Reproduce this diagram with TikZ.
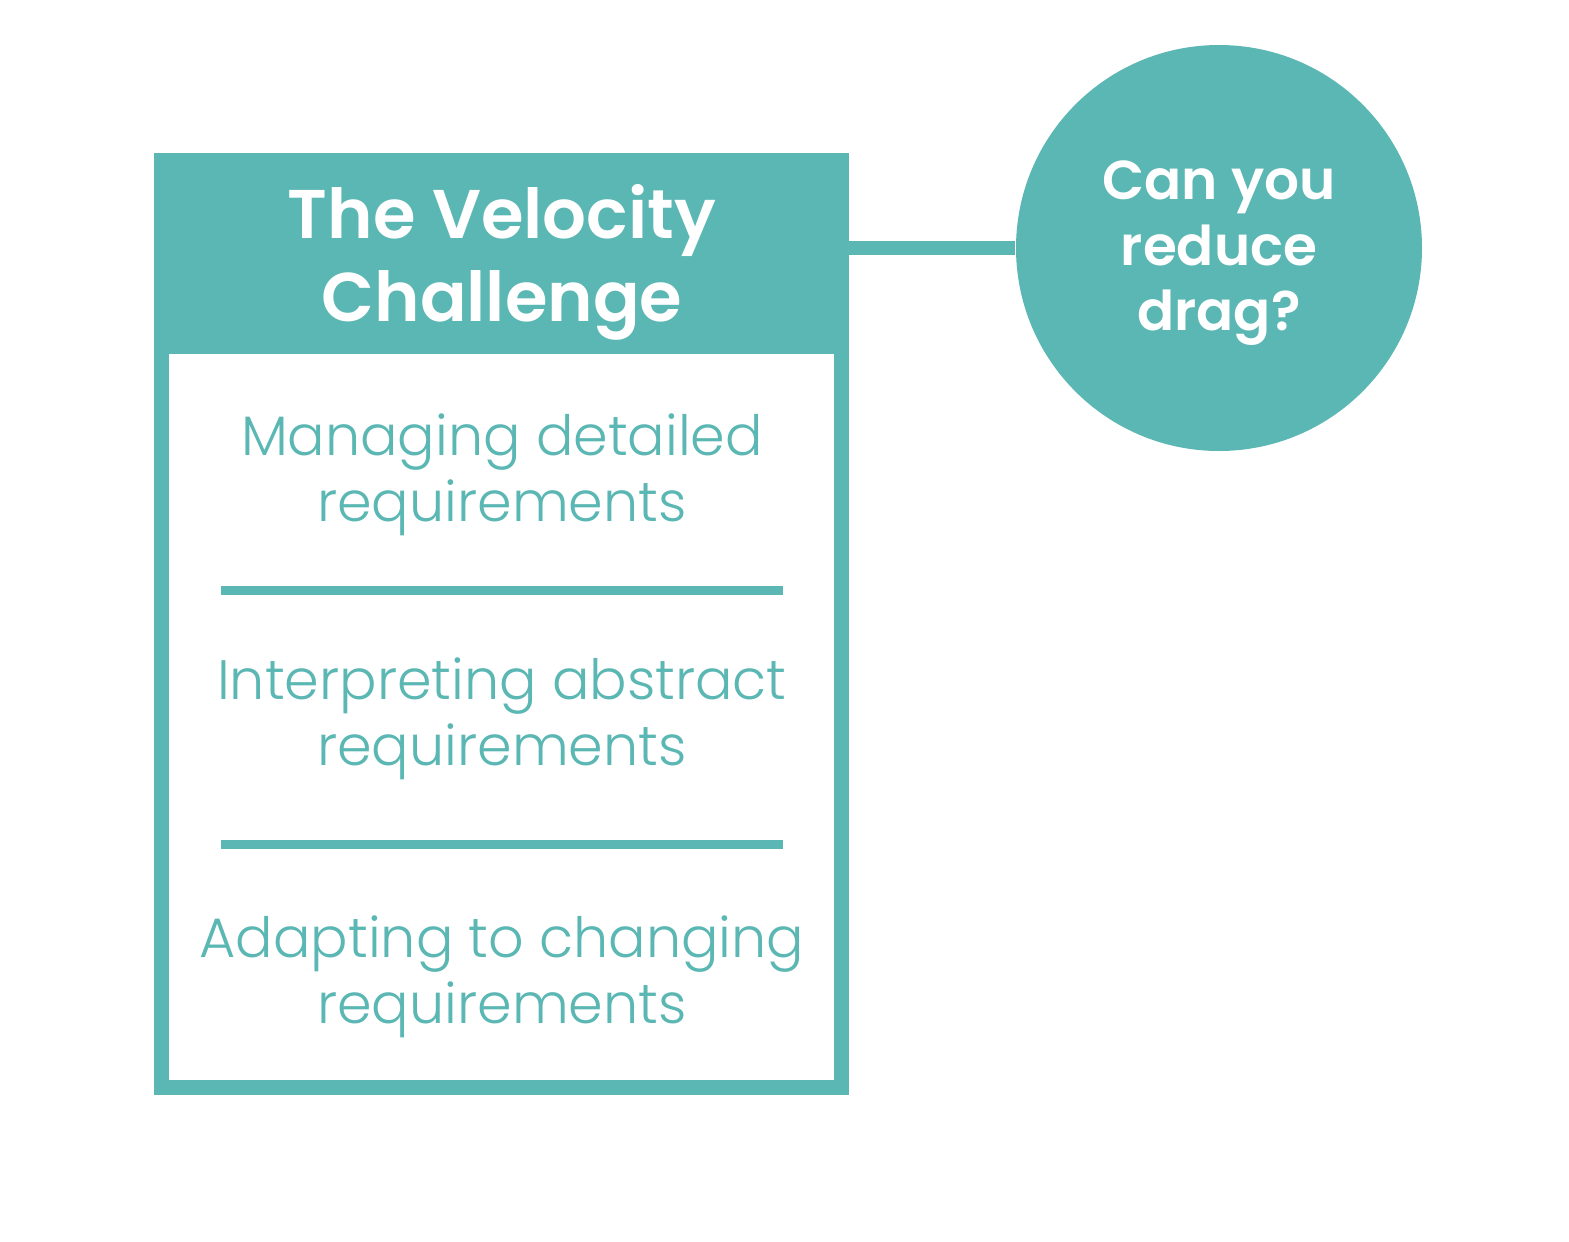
\documentclass[tikz,border=0pt]{standalone}
\usepackage{fontspec}
\setmainfont{Poppins}
\newfontfamily\titlefont{Poppins}[UprightFont=* SemiBold]
\newfontfamily\bodyfont{Poppins}[UprightFont=* Light]
\definecolor{teal}{HTML}{5BB7B3}
\tikzset{
  ttl/.style={anchor=base, text=white, font=\titlefont\fontsize{19.6}{24}\selectfont, inner sep=0pt},
  qst/.style={anchor=base, text=white, font=\titlefont\fontsize{15.6}{20}\selectfont, inner sep=0pt},
  bdy/.style={anchor=base, text=teal, font=\bodyfont\fontsize{15.8}{20}\selectfont, inner sep=0pt},
  sepline/.style={draw=teal, line width=9*0.01cm},
}
\begin{document}
\begin{tikzpicture}[x=0.01cm,y=-0.01cm]
\useasboundingbox (0,0) rectangle (1569,1242);
% box
\path[fill=teal] (154,153) rectangle (849,1095);
\path[fill=white] (169,354) rectangle (834,1080);
\coordinate (bx) at (849,248);
% circle
\node[circle, fill=teal, minimum size=406*0.01cm, inner sep=0pt] (q) at (1219,248) {};
\draw[teal, line width=14*0.01cm] (bx) -- (q.west);
% title
\node[ttl] (t1) at (502,238) {The Velocity};
\node[ttl] (t2) at (502,321) {Challenge};
% question
\node[qst] (q1) at (1219,199) {Can you};
\node[qst] (q2) at (1219,265) {reduce};
\node[qst] (q3) at (1219,330) {drag?};
% body
\node[bdy] (a1) at (502,455) {Managing detailed};
\node[bdy] (a2) at (502,521) {requirements};
\coordinate (s1a) at (221,590); \coordinate (s1b) at (783,590);
\draw[sepline] (s1a) -- (s1b);
\node[bdy] (b1) at (502,699) {Interpreting abstract};
\node[bdy] (b2) at (502,765) {requirements};
\coordinate (s2a) at (221,844); \coordinate (s2b) at (783,844);
\draw[sepline] (s2a) -- (s2b);
\node[bdy] (c1) at (502,957) {Adapting to changing};
\node[bdy] (c2) at (502,1023) {requirements};
\end{tikzpicture}
\end{document}
